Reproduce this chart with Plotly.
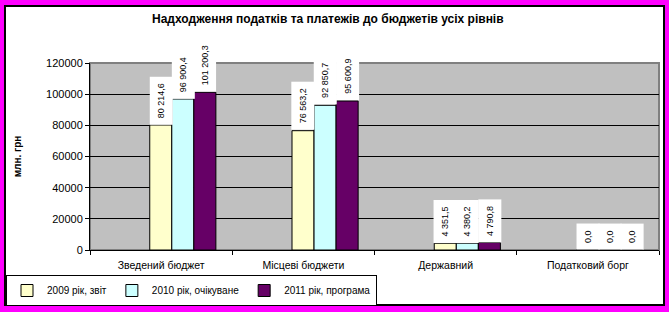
import plotly.graph_objects as go

categories = ["Зведений бюджет", "Місцеві бюджети", "Державний", "Податковий борг"]
series_names = ["2009 рік, звіт", "2010 рік, очікуване", "2011 рік, програма"]
values_2009 = [80214.6, 76563.2, 4351.5, 0]
values_2010 = [96900.4, 92850.7, 4380.2, 0]
values_2011 = [101200.3, 95600.9, 4790.8, 0]
series_values = [values_2009, values_2010, values_2011]
colors = ["#FFFFCC", "#CCFFFF", "#660066"]
y_ticks = [0, 20000, 40000, 60000, 80000, 100000, 120000]

FONT = "Liberation Sans, Arial, sans-serif"
BAR_W = 0.155
OFFSETS = [-0.08, -0.08 + BAR_W, -0.08 + 2 * BAR_W]

def fmt(v):
    return f"{v:,.1f}".replace(",", " ").replace(".", ",")

fig = go.Figure()
for name, vals, col, off in zip(series_names, series_values, colors, OFFSETS):
    fig.add_trace(go.Bar(
        x=categories, y=vals, name=name,
        width=BAR_W, offset=off,
        marker=dict(color=col, line=dict(color="black", width=1)),
    ))

annotations = []
for vals, off in zip(series_values, OFFSETS):
    for i, v in enumerate(vals):
        annotations.append(dict(
            x=i + off + BAR_W / 2, y=v, xref="x", yref="y",
            text=fmt(v), showarrow=False, textangle=-90,
            xanchor="center", yanchor="bottom",
            bgcolor="white", borderpad=6,
            font=dict(family=FONT, size=9, color="black"),
        ))

fig.update_layout(
    width=669, height=312,
    margin=dict(l=90, r=10, t=63, b=62, autoexpand=False),
    paper_bgcolor="#FF00FF",
    plot_bgcolor="#C0C0C0",
    font=dict(family=FONT, size=11, color="black"),
    title=dict(
        text="<b>Надходження податків та платежів до бюджетів усіх рівнів</b>",
        x=0.49, xanchor="center", y=1 - 19 / 312, yanchor="middle",
        font=dict(family=FONT, size=12, color="black"),
    ),
    barmode="overlay",
    showlegend=True,
    legend=dict(
        orientation="h", x=-0.1476, y=-0.2995, xanchor="left", yanchor="bottom",
        bgcolor="white", bordercolor="black", borderwidth=1,
        font=dict(family=FONT, size=10), itemwidth=30,
        traceorder="normal", tracegroupgap=0,
    ),
    xaxis=dict(
        type="category", range=[-0.5, 3.5], automargin=False,
        showline=True, linecolor="black", linewidth=1,
        ticks="outside", ticklen=4, tickcolor="black", tickson="boundaries",
        showgrid=False, tickfont=dict(family=FONT, size=10.5),
        ticklabelstandoff=5,
    ),
    yaxis=dict(
        range=[0, 120000], tickvals=y_ticks, ticktext=[str(t) for t in y_ticks],
        automargin=False,
        showline=True, linecolor="black", linewidth=1,
        ticks="outside", ticklen=4, tickcolor="black",
        showgrid=True, gridcolor="black", gridwidth=1, zeroline=False,
        tickfont=dict(family=FONT, size=11),
        title=dict(text="<b>млн. грн</b>", font=dict(family=FONT, size=10), standoff=22),
    ),
    annotations=annotations,
    shapes=[
        dict(type="rect", xref="paper", yref="paper", layer="below",
             x0=-0.1494, x1=1.0088, y0=-0.2941, y1=1.3048,
             fillcolor="white", line=dict(color="black", width=2)),
        dict(type="rect", xref="paper", yref="paper", layer="below",
             x0=0, x1=1, y0=0, y1=1,
             fillcolor="#C0C0C0", line=dict(color="#808080", width=2)),
    ],
)

fig.write_html("out.html")
